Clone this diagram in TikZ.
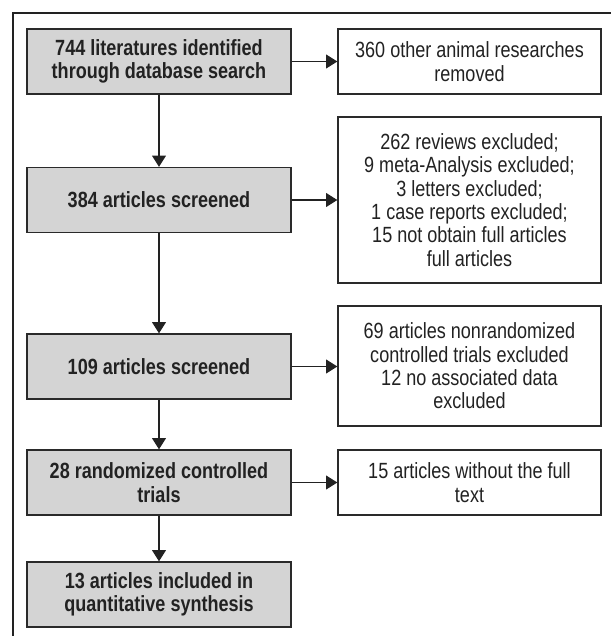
\documentclass[tikz,border=0pt]{standalone}
\usepackage{fontspec}
\setmainfont{Liberation Sans}[FakeStretch=0.82]
\usetikzlibrary{arrows.meta}
\definecolor{boxgray}{HTML}{D4D4D4}
\definecolor{edgegray}{HTML}{2A2A2A}
\definecolor{txt}{HTML}{222222}
\begin{document}
\begin{tikzpicture}[x=0.75pt,y=-0.75pt,
  base/.style={draw=edgegray, line width=1pt, align=center, inner sep=0pt, text=txt,
    font=\fontsize{16.5}{17.5}\selectfont},
  lbox/.style={base, fill=boxgray, minimum width=198pt, minimum height=48.75pt,
    font=\fontsize{16.5}{17.5}\selectfont\bfseries},
  rbox/.style={base, fill=white, minimum width=197.25pt},
  arr/.style={draw=txt, line width=0.9pt, -{Triangle[length=8.5pt,width=10.5pt]}}]
\useasboundingbox (0,0) rectangle (611,636);
\draw[line width=1.6pt, txt] (13,636) -- (13,13) -- (611,13);

\node[lbox] (b1) at (159,61.5) {744 literatures identified\\through database search};
\node[lbox] (b2) at (159,200) {384 articles screened};
\node[lbox] (b3) at (159,366.5) {109 articles screened};
\node[lbox] (b4) at (159,482.5) {28 randomized controlled\\trials};
\node[lbox] (b5) at (159,594.5) {13 articles included in\\quantitative synthesis};

\node[rbox, minimum height=48.75pt] (r1) at (469.5,61.5) {360 other animal researches\\removed};
\node[rbox, minimum height=124.5pt] (r2) at (469.5,200) {262 reviews excluded;\\9 meta-Analysis excluded;\\3 letters excluded;\\1 case reports excluded;\\15 not obtain full articles\\full articles};
\node[rbox, minimum height=90pt] (r3) at (469.5,366) {69 articles nonrandomized\\controlled trials excluded\\12 no associated data\\excluded};
\node[rbox, minimum height=48.75pt] (r4) at (469.5,482.5) {15 articles without the full\\text};

\draw[arr] (b1) -- (b2);
\draw[arr] (b2) -- (b3);
\draw[arr] (b3) -- (b4);
\draw[arr] (b4) -- (b5);
\draw[arr] (b1) -- (r1);
\draw[arr] (b2) -- (r2);
\draw[arr] (b3.east) -- (r3.west |- b3.east);
\draw[arr] (b4) -- (r4);
\end{tikzpicture}
\end{document}
